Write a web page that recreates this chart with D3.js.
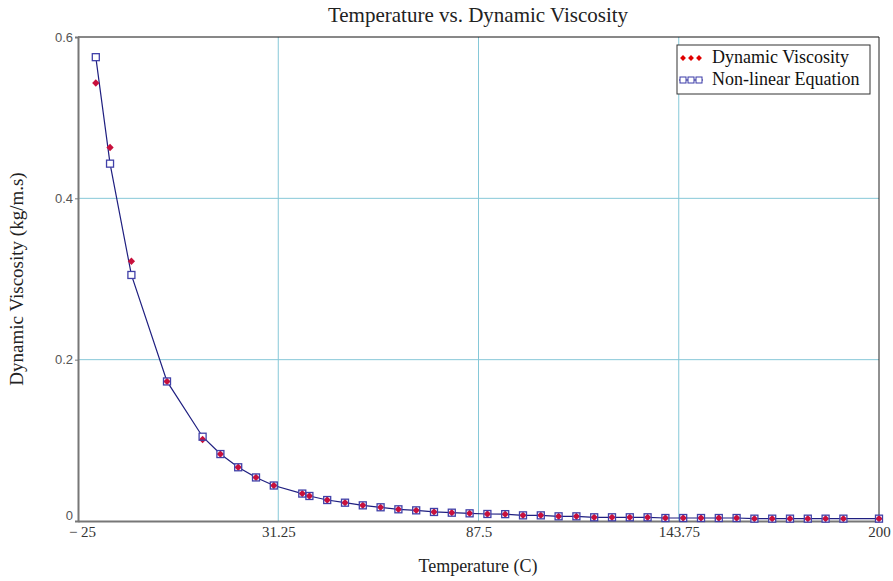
<!DOCTYPE html>
<html>
<head>
<meta charset="utf-8">
<title>Temperature vs. Dynamic Viscosity</title>
<script src="https://d3js.org/d3.v7.min.js"></script>
<style>
  body { margin: 0; background: #fff; }
</style>
</head>
<body>
<div id="chart"></div>
<script>

// data
var temps = [-20, -16, -10, 0, 10, 15, 20, 25, 30, 38, 40, 45, 50, 55, 60, 65, 70, 75, 80, 85,
  90, 95, 100, 105, 110, 115, 120, 125, 130, 135, 140, 145, 150, 155, 160, 165, 170, 175, 180, 185, 190, 200]

var viscosity = [0.543, 0.463, 0.322, 0.173, 0.101, 0.083, 0.0666, 0.054, 0.044, 0.034, 0.031, 0.026,
  0.0227, 0.0194, 0.017, 0.0145, 0.0132, 0.0112, 0.0103, 0.0095, 0.0087, 0.0085, 0.0070, 0.0070,
  0.0058, 0.0058, 0.0046, 0.0046, 0.0046, 0.0046, 0.0037, 0.0037, 0.0037, 0.0037, 0.0037,
  0.0029, 0.0029, 0.0029, 0.0029, 0.0029, 0.0029, 0.0029]

var fitted = [0.575, 0.443, 0.305, 0.173, 0.1045, 0.083, 0.0666, 0.054, 0.044, 0.034, 0.031, 0.026,
  0.0227, 0.0194, 0.017, 0.0145, 0.0132, 0.0112, 0.0103, 0.0095, 0.0087, 0.0085, 0.0070, 0.0070,
  0.0058, 0.0058, 0.0046, 0.0046, 0.0046, 0.0046, 0.0037, 0.0037, 0.0037, 0.0037, 0.0037,
  0.0029, 0.0029, 0.0029, 0.0029, 0.0029, 0.0029, 0.0029]

var xTicks = [-25, 31.25, 87.5, 143.75, 200]
var yTicks = [0, 0.2, 0.4, 0.6]
var seriesNames = ["Dynamic Viscosity", "Non-linear Equation"]

var width = 893
var height = 581
var margin = {top: 37, right: 14, bottom: 60, left: 78}

var svg = d3.select("#chart")
  .append("svg")
    .attr("width", width)
    .attr("height", height)

var x = d3.scaleLinear()
  .domain([-25, 200])
  .range([margin.left, width - margin.right])

var y = d3.scaleLinear()
  .domain([0, 0.6])
  .range([height - margin.bottom, margin.top])

var serif = "'Liberation Serif', 'Times New Roman', serif"

// grid lines
svg.append("g")
  .selectAll("line")
  .data(xTicks.slice(1, -1))
  .enter()
  .append("line")
    .attr("x1", function(d){ return x(d) })
    .attr("x2", function(d){ return x(d) })
    .attr("y1", y(0))
    .attr("y2", y(0.6))
    .attr("stroke", "#86c8d8")
    .attr("stroke-width", 1)

svg.append("g")
  .selectAll("line")
  .data(yTicks.slice(1, -1))
  .enter()
  .append("line")
    .attr("x1", x(-25))
    .attr("x2", x(200))
    .attr("y1", function(d){ return y(d) })
    .attr("y2", function(d){ return y(d) })
    .attr("stroke", "#86c8d8")
    .attr("stroke-width", 1)

// frame: black top/right, grey axes
svg.append("line")
  .attr("x1", x(-25)).attr("x2", x(200))
  .attr("y1", y(0.6)).attr("y2", y(0.6))
  .attr("stroke", "#111").attr("stroke-width", 1)
svg.append("line")
  .attr("x1", x(200)).attr("x2", x(200))
  .attr("y1", y(0.6)).attr("y2", y(0))
  .attr("stroke", "#222").attr("stroke-width", 1)

// axes
var xAxis = svg.append("g")
  .attr("transform", "translate(0," + y(0) + ")")
  .call(d3.axisBottom(x).tickValues(xTicks).tickSize(0).tickPadding(5)
    .tickFormat(function(d){ return d < 0 ? "\u2212 " + Math.abs(d) : String(d) }))
xAxis.select(".domain").attr("stroke", "#777").attr("stroke-width", 2)
xAxis.selectAll("text")
  .attr("font-family", serif)
  .attr("font-size", 15)
  .attr("fill", "#333")
xAxis.selectAll(".tick text")
  .filter(function(d){ return d < 0 })
  .attr("dx", 4)

var yAxis = svg.append("g")
  .attr("transform", "translate(" + x(-25) + ",0)")
  .call(d3.axisLeft(y).tickValues(yTicks).tickSize(3).tickPadding(2)
    .tickFormat(function(d){ return d === 0 ? "0" : d3.format(".1f")(d) }))
yAxis.select(".domain").attr("stroke", "#777").attr("stroke-width", 2)
yAxis.selectAll(".tick line").attr("stroke", "#777")
yAxis.selectAll("text")
  .attr("font-family", "'Liberation Sans', Arial, sans-serif")
  .attr("font-size", 13)
  .attr("fill", "#555")
yAxis.selectAll(".tick text")
  .filter(function(d){ return d === 0 })
  .attr("dy", "-0.1em")

// fitted curve
var fitData = temps.map(function(t, i){ return {t: t, v: fitted[i]} })
var rawData = temps.map(function(t, i){ return {t: t, v: viscosity[i]} })

svg.append("path")
  .datum(fitData)
  .attr("fill", "none")
  .attr("stroke", "#1f1f80")
  .attr("stroke-width", 1.2)
  .attr("d", d3.line()
    .x(function(d){ return x(d.t) })
    .y(function(d){ return y(d.v) }))

// white under the squares
svg.append("g")
  .selectAll("rect")
  .data(fitData)
  .enter()
  .append("rect")
    .attr("x", function(d){ return x(d.t) - 3.5 })
    .attr("y", function(d){ return y(d.v) - 3.5 })
    .attr("width", 7)
    .attr("height", 7)
    .attr("fill", "white")

// diamond markers
var diamond = d3.symbol().type(d3.symbolDiamond2).size(34)
svg.append("g")
  .selectAll("path")
  .data(rawData)
  .enter()
  .append("path")
    .attr("d", diamond)
    .attr("transform", function(d){ return "translate(" + x(d.t) + "," + y(d.v) + ")" })
    .attr("fill", "#c8103c")

// square outlines on top
svg.append("g")
  .selectAll("rect")
  .data(fitData)
  .enter()
  .append("rect")
    .attr("x", function(d){ return x(d.t) - 3.5 })
    .attr("y", function(d){ return y(d.v) - 3.5 })
    .attr("width", 7)
    .attr("height", 7)
    .attr("fill", "none")
    .attr("stroke", "#4040a8")
    .attr("stroke-width", 1.3)

// titles
svg.append("text")
  .attr("x", 478).attr("y", 22)
  .attr("text-anchor", "middle")
  .attr("font-family", serif).attr("font-size", 21).attr("fill", "#222")
  .text("Temperature vs. Dynamic Viscosity")

svg.append("text")
  .attr("x", 478).attr("y", 572)
  .attr("text-anchor", "middle")
  .attr("font-family", serif).attr("font-size", 18).attr("fill", "#222")
  .text("Temperature (C)")

svg.append("text")
  .attr("transform", "translate(23," + ((margin.top + height - margin.bottom) / 2) + ") rotate(-90)")
  .attr("text-anchor", "middle")
  .attr("font-family", serif).attr("font-size", 19).attr("fill", "#222")
  .text("Dynamic Viscosity (kg/m.s)")

// legend
var legend = svg.append("g").attr("transform", "translate(677,45)")
legend.append("rect")
  .attr("width", 193).attr("height", 49)
  .attr("fill", "white").attr("stroke", "#333").attr("stroke-width", 1)

var lx = [6, 14, 22]
legend.selectAll("path")
  .data(lx)
  .enter()
  .append("path")
    .attr("d", d3.symbol().type(d3.symbolDiamond2).size(22))
    .attr("transform", function(d){ return "translate(" + d + ",13)" })
    .attr("fill", "#e00000")

legend.append("line")
  .attr("x1", 2).attr("x2", 26).attr("y1", 35).attr("y2", 35)
  .attr("stroke", "#1f1f80").attr("stroke-width", 1)
legend.selectAll("rect.ls")
  .data(lx)
  .enter()
  .append("rect")
    .attr("class", "ls")
    .attr("x", function(d){ return d - 3 })
    .attr("y", 32)
    .attr("width", 6).attr("height", 6)
    .attr("fill", "white").attr("stroke", "#3a3aa8").attr("stroke-width", 1)

legend.selectAll("text")
  .data(seriesNames)
  .enter()
  .append("text")
    .attr("x", 35)
    .attr("y", function(d, i){ return 18 + i * 22 })
    .attr("font-family", serif).attr("font-size", 18).attr("fill", "#111")
    .text(function(d){ return d })

</script>
</body>
</html>
